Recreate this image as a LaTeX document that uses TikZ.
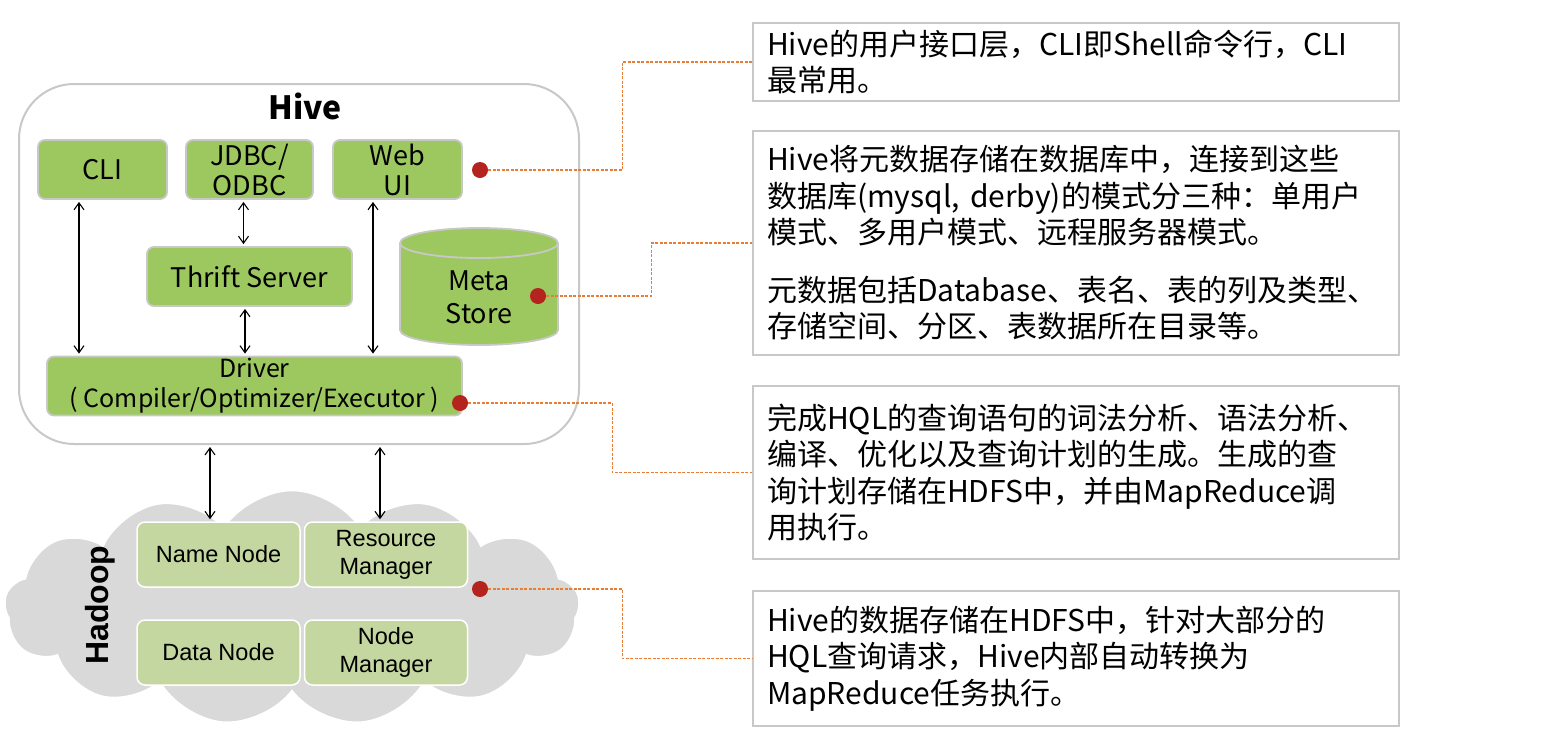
\documentclass[tikz,border=0pt]{standalone}
\usepackage{fontspec}
\setmainfont{Noto Sans CJK SC}
\newfontfamily\arialf{Liberation Sans}
\usetikzlibrary{shapes.symbols,arrows.meta}
\definecolor{hgreen}{RGB}{157,200,95}
\definecolor{lgreen}{RGB}{197,215,160}
\definecolor{bord}{RGB}{200,200,200}
\definecolor{reddot}{RGB}{180,35,30}
\definecolor{dashor}{RGB}{232,125,55}
\definecolor{cloudg}{RGB}{217,217,217}
\begin{document}
\begin{tikzpicture}[x=1pt,y=-1pt,
 gbox/.style={draw=bord, line width=1.8pt, fill=hgreen, rounded corners=7pt, inner sep=0pt, align=center, font=\fontsize{27}{30}\selectfont},
 hbox/.style={draw=white, line width=1.5pt, fill=lgreen, rounded corners=8pt, minimum width=163pt, minimum height=65pt, inner sep=0pt, align=center, font=\arialf\fontsize{23.5}{28}\selectfont},
 rdot/.style={circle, fill=reddot, minimum size=16pt, inner sep=0pt},
 dline/.style={draw=dashor, line width=1.3pt, dash pattern=on 3pt off 1.5pt},
 tbox/.style={draw=bord, line width=2pt, minimum width=646pt, text width=618pt, inner xsep=14pt, inner ysep=0pt, anchor=north west, align=left, font=\fontsize{30}{36.5}\selectfont},
 arr/.style={{Straight Barb[length=7pt,width=10pt]}-{Straight Barb[length=7pt,width=10pt]}, line width=1.1pt, shorten <=2pt, shorten >=2pt}
]
\useasboundingbox (0,0) rectangle (1552,748);
% Hive container
\node[draw=bord, line width=2pt, rounded corners=55pt, minimum width=560pt, minimum height=360pt, anchor=north west, inner sep=0pt] (hive) at (18,83) {};
\node[font=\bfseries\fontsize{32}{34}\selectfont] (hivet) at (305,106) {Hive};
\node[gbox, minimum width=129pt, minimum height=59pt] (cli) at (102.5,169.5) {CLI};
\node[gbox, minimum width=127pt, minimum height=59pt] (jdbc) at (249.5,169.5) {JDBC/\\ODBC};
\node[gbox, minimum width=129pt, minimum height=59pt] (web) at (397.5,169.5) {Web\\UI};
\node[gbox, minimum width=205pt, minimum height=59pt] (thrift) at (249.5,276.5) {Thrift Server};
\node[gbox, minimum width=415pt, minimum height=59pt, font=\fontsize{25}{30}\selectfont] (driver) at (254.5,386) {Driver\\( Compiler/Optimizer/Executor )};
% Meta store cylinder
\path[fill=hgreen, draw=bord, line width=1.8pt] (400,243) -- (400,330) arc[start angle=180, end angle=0, x radius=79, y radius=15] -- (558,243) arc[start angle=360, end angle=180, x radius=79, y radius=15] -- cycle;
\draw[bord, line width=1.8pt] (400,243) arc[start angle=180, end angle=0, x radius=79, y radius=15];
\node[align=center, font=\fontsize{27}{33}\selectfont] (meta) at (479,297) {Meta\\Store};
% arrows inside Hive
\draw[arr] ([xshift=-23.5pt]cli.south) -- ([xshift=-23.5pt]cli.south |- driver.north);
\draw[arr] ([xshift=-6pt]jdbc.south) -- ([xshift=-6pt]jdbc.south |- thrift.north);
\draw[arr] ([xshift=-4.5pt]thrift.south) -- ([xshift=-4.5pt]thrift.south |- driver.north);
\draw[arr] ([xshift=-24.5pt]web.south) -- ([xshift=-24.5pt]web.south |- driver.north);
% Hadoop cloud
\node[cloud, cloud puffs=13, cloud puff arc=115, aspect=2.4, fill=cloudg, draw=white, line width=1.5pt, minimum width=575pt, minimum height=235pt, inner sep=0pt] (cloud) at (292,608) {};
\node[hbox] (nn) at (218.5,554.5) {Name Node};
\node[hbox] (rm) at (386,554.5) {Resource\\Manager};
\node[hbox] (dn) at (218.5,652.5) {Data Node};
\node[hbox] (nm) at (386,652.5) {Node\\Manager};
\node[rotate=90, font=\arialf\bfseries\fontsize{32}{34}\selectfont] (hadoop) at (100,605) {Hadoop};
\draw[arr] ([xshift=-8.5pt]nn.north |- hive.south) -- ([xshift=-8.5pt]nn.north);
\draw[arr] ([xshift=-6pt]rm.north |- hive.south) -- ([xshift=-6pt]rm.north);
% red dots
\node[rdot] (d1) at (480,170) {};
\node[rdot] (d2) at (538,296) {};
\node[rdot] (d3) at (460,403) {};
\node[rdot] (d4) at (480,589) {};
% text boxes
\node[tbox, minimum height=78pt] (t1) at (752,22) {Hive的用户接口层，CLI即Shell命令行，CLI\\最常用。};
\node[tbox, minimum height=224pt] (t2) at (752,130) {Hive将元数据存储在数据库中，连接到这些\\数据库(mysql, derby)的模式分三种：单用户\\模式、多用户模式、远程服务器模式。\\[21pt]元数据包括Database、表名、表的列及类型、\\存储空间、分区、表数据所在目录等。};
\node[tbox, minimum height=173pt] (t3) at (752,385) {完成HQL的查询语句的词法分析、语法分析、\\编译、优化以及查询计划的生成。生成的查\\询计划存储在HDFS中，并由MapReduce调\\用执行。};
\node[tbox, minimum height=135pt] (t4) at (752,590) {Hive的数据存储在HDFS中，针对大部分的\\HQL查询请求，Hive内部自动转换为\\MapReduce任务执行。};
% dashed connectors
\draw[dline] (d1.east) -- ++(134,0) |- (t1.west);
\draw[dline] (d2.east) -- ++(105,0) |- (t2.west);
\draw[dline] (d3.east) -- ++(144,0) |- (t3.west);
\draw[dline] (d4.east) -- ++(134,0) |- (t4.west);
\end{tikzpicture}
\end{document}
